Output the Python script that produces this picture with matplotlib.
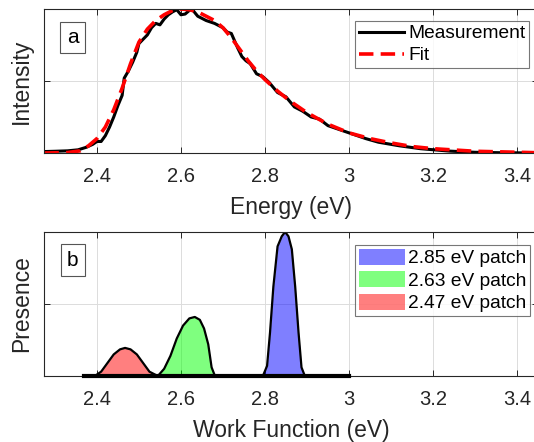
import numpy as np
import matplotlib
matplotlib.use('Agg')
import matplotlib.pyplot as plt
from matplotlib.patches import Patch

plt.rcParams['font.family'] = ['Liberation Sans', 'DejaVu Sans']

# panel a: measured spectrum and fit
meas_e = [2.275, 2.30, 2.33, 2.355, 2.375, 2.39, 2.40, 2.41, 2.42, 2.43, 2.44, 2.45,
          2.46, 2.465, 2.475, 2.485, 2.495, 2.50, 2.51, 2.52, 2.53, 2.54, 2.55, 2.56,
          2.57, 2.58, 2.59, 2.60, 2.61, 2.62, 2.626, 2.64, 2.66, 2.68, 2.70, 2.71,
          2.72, 2.735, 2.745, 2.755, 2.765, 2.78, 2.795, 2.81, 2.83, 2.85, 2.87,
          2.89, 2.91, 2.93, 2.95, 2.97, 3.0, 3.04, 3.07, 3.12, 3.17, 3.24, 3.30,
          3.36, 3.45]
meas_i = [0.01, 0.012, 0.015, 0.022, 0.04, 0.06, 0.08, 0.08, 0.12, 0.18, 0.25, 0.33,
          0.40, 0.52, 0.57, 0.63, 0.70, 0.76, 0.79, 0.82, 0.87, 0.90, 0.89, 0.93,
          0.96, 0.98, 0.995, 0.96, 0.965, 0.99, 1.0, 0.95, 0.92, 0.90, 0.87, 0.84,
          0.83, 0.73, 0.67, 0.64, 0.62, 0.55, 0.53, 0.49, 0.42, 0.39, 0.32,
          0.29, 0.25, 0.235, 0.19, 0.17, 0.14, 0.10, 0.075, 0.05, 0.03, 0.013, 0.005,
          0.002, 0.0]

fit_e = [2.275, 2.33, 2.36, 2.38, 2.40, 2.42, 2.44, 2.46, 2.48, 2.50, 2.52, 2.54,
         2.56, 2.58, 2.60, 2.62, 2.64, 2.66, 2.68, 2.70, 2.72, 2.74, 2.76, 2.78,
         2.80, 2.83, 2.86, 2.90, 2.95, 3.0, 3.05, 3.1, 3.15, 3.2, 3.3, 3.45]
fit_i = [0.0, 0.003, 0.015, 0.05, 0.10, 0.18, 0.30, 0.45, 0.62, 0.77, 0.86, 0.92,
         0.96, 0.99, 1.0, 0.995, 0.98, 0.95, 0.92, 0.87, 0.80, 0.72, 0.64, 0.57,
         0.51, 0.43, 0.36, 0.28, 0.20, 0.14, 0.10, 0.07, 0.045, 0.03, 0.012, 0.002]

# panel b: work function patches
red_x = [2.395, 2.41, 2.425, 2.44, 2.455, 2.467, 2.48, 2.495, 2.51, 2.525, 2.545]
red_y = [0, 0.03, 0.09, 0.15, 0.185, 0.195, 0.185, 0.15, 0.09, 0.03, 0]
green_x = [2.545, 2.56, 2.575, 2.59, 2.605, 2.62, 2.633, 2.645, 2.655, 2.665, 2.673, 2.681]
green_y = [0, 0.05, 0.14, 0.26, 0.35, 0.40, 0.41, 0.39, 0.33, 0.22, 0.06, 0]
blue_x = [2.795, 2.805, 2.812, 2.82, 2.83, 2.84, 2.848, 2.856, 2.864, 2.872, 2.88, 2.887, 2.895]
blue_y = [0, 0.07, 0.30, 0.62, 0.90, 0.97, 1.0, 0.97, 0.88, 0.62, 0.30, 0.06, 0]
base_x = [2.37, 3.0]
patch_labels = ['2.85 eV patch', '2.63 eV patch', '2.47 eV patch']

xticks = [2.4, 2.6, 2.8, 3.0, 3.2, 3.4]
xticklabels = ['2.4', '2.6', '2.8', '3', '3.2', '3.4']

W, H = 534, 442
fig = plt.figure(figsize=(W/100, H/100), dpi=100)
ax1 = fig.add_axes([44/W, 1-153/H, 494/W, 144/H])
ax2 = fig.add_axes([44/W, 1-376/H, 494/W, 144/H])

dark = '#262626'
for ax in (ax1, ax2):
    ax.set_xlim(2.274, 3.45)
    ax.set_ylim(0, 1)
    ax.set_xticks(xticks)
    ax.set_xticklabels(xticklabels)
    ax.set_yticks([0.5])
    ax.set_yticklabels([])
    ax.grid(True, color='#dcdcdc', lw=0.7)
    ax.set_axisbelow(True)
    ax.tick_params(direction='in', length=4, width=0.7, colors=dark,
                   labelsize=14.5, top=True, right=True, pad=10)
    for s in ax.spines.values():
        s.set_color(dark)
        s.set_linewidth(0.8)

ax1.plot(meas_e, meas_i, color='black', lw=2.2, label='Measurement')
ax1.plot(fit_e, fit_i, color='red', lw=2.6, ls=(0, (4, 2)), label='Fit')
ax1.set_xlabel('Energy (eV)', fontsize=16.5, color=dark, labelpad=7)
ax1.set_ylabel('Intensity', fontsize=16.5, color=dark, labelpad=-2)
leg1 = ax1.legend(loc='upper right', bbox_to_anchor=(529/W, 1-21/H),
                  bbox_transform=fig.transFigure, borderaxespad=0, fontsize=13.8,
                  frameon=True, fancybox=False, edgecolor='#555555',
                  handlelength=2.35, handletextpad=0.2, labelspacing=0.25,
                  borderpad=0.2)
leg1.get_frame().set_linewidth(0.8)

ax2.fill_between(blue_x, blue_y, color=(0, 0, 1, 0.5), lw=0)
ax2.fill_between(green_x, green_y, color=(0, 1, 0, 0.5), lw=0)
ax2.fill_between(red_x, red_y, color=(1, 0, 0, 0.5), lw=0)
for xs, ys in ((red_x, red_y), (green_x, green_y), (blue_x, blue_y)):
    ax2.plot(xs, ys, color='black', lw=1.6)
ax2.plot(base_x, [0, 0], color='black', lw=3, clip_on=False, zorder=5)
ax2.set_xlabel('Work Function (eV)', fontsize=16.5, color=dark, labelpad=7)
ax2.set_ylabel('Presence', fontsize=16.5, color=dark, labelpad=-2)
handles = [Patch(facecolor=(0, 0, 1, 0.5), edgecolor='none'),
           Patch(facecolor=(0, 1, 0, 0.5), edgecolor='none'),
           Patch(facecolor=(1, 0, 0, 0.5), edgecolor='none')]
leg2 = ax2.legend(handles, patch_labels, loc='upper right',
                  bbox_to_anchor=(530/W, 1-245/H), bbox_transform=fig.transFigure,
                  borderaxespad=0, fontsize=13.8, frameon=True, fancybox=False,
                  edgecolor='#555555', handlelength=2.4, handleheight=0.9,
                  handletextpad=0.15, labelspacing=0.2, borderpad=0.2)
leg2.get_frame().set_linewidth(0.8)


def label_box(txt, cx, cy):
    fig.text(cx/W, 1-cy/H, txt, ha='center', va='center', fontsize=15, color='black',
             bbox=dict(boxstyle='square,pad=0.3', fc='white', ec='#555555', lw=0.8))


label_box('a', 72.5, 37.5)
label_box('b', 72.5, 260)

fig.savefig('out.png', dpi=100)
